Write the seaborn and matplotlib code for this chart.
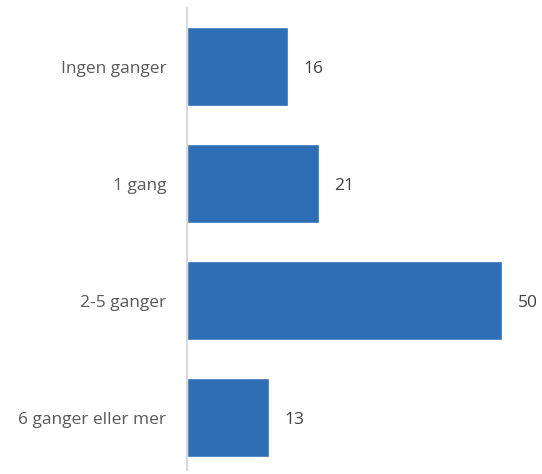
import matplotlib
matplotlib.use("Agg")
import matplotlib.pyplot as plt
import seaborn as sns
import pandas as pd

categories = ["Ingen ganger", "1 gang", "2-5 ganger", "6 ganger eller mer"]
values = [16, 21, 50, 13]

df = pd.DataFrame({"kategori": categories, "verdi": values})

sns.set_style("white")
plt.rcParams["font.family"] = ["Open Sans", "DejaVu Sans"]

fig = plt.figure(figsize=(5.42, 4.74), dpi=100)
ax = fig.add_axes([0.345, 0.008, 0.655, 0.975])

sns.barplot(data=df, y="kategori", x="verdi", color="#2E6EB5", saturation=1,
            width=0.67, orient="h", ax=ax)

ax.set_xlim(0, 56.3)
ax.set_ylim(3.45, -0.5)
ax.set_xlabel("")
ax.set_ylabel("")
ax.set_xticks([])
for s in ["top", "right", "bottom"]:
    ax.spines[s].set_visible(False)
ax.spines["left"].set_color("#D9D9D9")
ax.spines["left"].set_linewidth(1.5)
ax.tick_params(axis="y", length=0, pad=15, labelsize=12.5, labelcolor="#595959")

for i, v in enumerate(values):
    ax.text(v + 2.4, i + 0.02, str(v), va="center", ha="left", fontsize=12.5, color="#404040")

fig.savefig("out.png", dpi=100)
